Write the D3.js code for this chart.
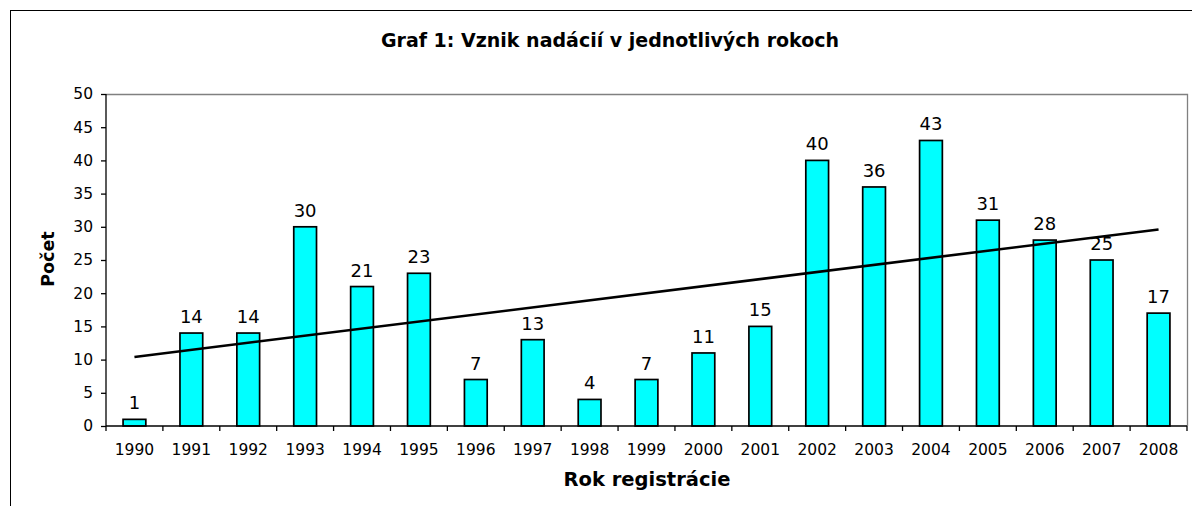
<!DOCTYPE html>
<html>
<head>
<meta charset="utf-8">
<script src="https://cdn.jsdelivr.net/npm/d3@7"></script>
<style>
  html, body { margin: 0; padding: 0; background: #fff; }
  svg { display: block; }
  text { font-family: "DejaVu Sans", Verdana, sans-serif; fill: #000; }
</style>
</head>
<body>
<svg id="chart" width="1192" height="506"></svg>
<script>
const years = ["1990","1991","1992","1993","1994","1995","1996","1997","1998","1999","2000","2001","2002","2003","2004","2005","2006","2007","2008"];
const counts = [1,14,14,30,21,23,7,13,4,7,11,15,40,36,43,31,28,25,17];
const yTicks = [0,5,10,15,20,25,30,35,40,45,50];
const titleText = "Graf 1: Vznik nadácií v jednotlivých rokoch";
const xTitle = "Rok registrácie";
const yTitle = "Počet";

const W = 1192, H = 506;
const plot = { left: 106, right: 1187, top: 94, bottom: 426 };

const svg = d3.select("#chart");

// outer frame
svg.append("rect")
  .attr("x", 10.5).attr("y", 10.5)
  .attr("width", W + 20).attr("height", H + 20)
  .attr("fill", "none").attr("stroke", "#000").attr("stroke-width", 1);

const xb = d3.scaleBand().domain(years).range([plot.left, plot.right]);
const y = d3.scaleLinear().domain([0, 50]).range([plot.bottom, plot.top]);

// plot border (top, right) gray
svg.append("path")
  .attr("d", `M${plot.left},${plot.top + 0.5}H${plot.right + 0.5}V${plot.bottom}`)
  .attr("fill", "none").attr("stroke", "#808080").attr("stroke-width", 1.3);

// bars
const bw = xb.bandwidth() / 2.5;
svg.append("g").selectAll("rect").data(counts).join("rect")
  .attr("x", (d, i) => xb(years[i]) + (xb.bandwidth() - bw) / 2)
  .attr("y", d => y(d))
  .attr("width", bw)
  .attr("height", d => y(0) - y(d))
  .attr("fill", "#00FFFF")
  .attr("stroke", "#000")
  .attr("stroke-width", 1.7);

// value labels
svg.append("g").selectAll("text").data(counts).join("text")
  .attr("x", (d, i) => xb(years[i]) + xb.bandwidth() / 2)
  .attr("y", d => y(d) - 10)
  .attr("text-anchor", "middle")
  .attr("font-size", 18)
  .text(d => d);

// trend line (linear regression)
const n = counts.length;
const idx = d3.range(n);
const mx = d3.mean(idx), my = d3.mean(counts);
const slope = d3.sum(idx, i => (i - mx) * (counts[i] - my)) / d3.sum(idx, i => (i - mx) ** 2);
const intercept = my - slope * mx;
const cx = i => xb(years[i]) + xb.bandwidth() / 2;
svg.append("line")
  .attr("x1", cx(0)).attr("y1", y(intercept))
  .attr("x2", cx(n - 1)).attr("y2", y(intercept + slope * (n - 1)))
  .attr("stroke", "#000").attr("stroke-width", 2.6);

// y axis
const yAxis = d3.axisLeft(y).tickValues(yTicks).tickSize(5).tickPadding(8);
const ga = svg.append("g").attr("transform", `translate(${plot.left},0)`).call(yAxis);
ga.selectAll("text").attr("font-size", 15.5).style("font-family", '"DejaVu Sans", Verdana, sans-serif').attr("fill", "#000");
ga.select(".domain").attr("stroke", "#000").attr("stroke-width", 1.3).attr("d", `M0,${plot.top}V${plot.bottom}`);
ga.selectAll(".tick line").attr("stroke", "#000").attr("stroke-width", 1.3);

// x axis
const xAxis = d3.axisBottom(xb).tickSize(0).tickPadding(18);
const gx = svg.append("g").attr("transform", `translate(0,${plot.bottom})`).call(xAxis);
gx.selectAll("text").attr("font-size", 15.5).style("font-family", '"DejaVu Sans", Verdana, sans-serif').attr("fill", "#000");
gx.select(".domain").attr("stroke", "#000").attr("stroke-width", 1.3).attr("d", `M${plot.left},0H${plot.right}`);
gx.append("g").selectAll("line").data(years.concat(["end"])).join("line")
  .attr("x1", (d, i) => i < n ? xb(d) : plot.right)
  .attr("x2", (d, i) => i < n ? xb(d) : plot.right)
  .attr("y1", 0).attr("y2", 5)
  .attr("stroke", "#000").attr("stroke-width", 1.3);

// titles
svg.append("text")
  .attr("x", 610).attr("y", 47)
  .attr("text-anchor", "middle").attr("font-weight", "bold").attr("font-size", 19)
  .text(titleText);

svg.append("text")
  .attr("x", 647).attr("y", 486)
  .attr("text-anchor", "middle").attr("font-weight", "bold").attr("font-size", 19.5)
  .text(xTitle);

svg.append("text")
  .attr("transform", "translate(54,259) rotate(-90)")
  .attr("text-anchor", "middle").attr("font-weight", "bold").attr("font-size", 17.5)
  .text(yTitle);
</script>
</body>
</html>
